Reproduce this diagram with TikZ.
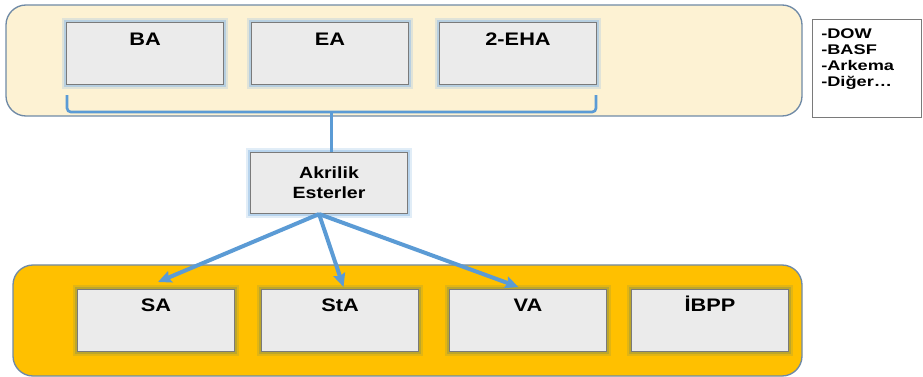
\documentclass[tikz,border=0pt]{standalone}
\usepackage{fontspec}
\usepackage{graphicx}
\setsansfont{Liberation Sans}
\usetikzlibrary{arrows.meta,calc}

\definecolor{creamfill}{HTML}{FDF2D3}
\definecolor{amberfill}{HTML}{FFC000}
\definecolor{panelline}{HTML}{6F8AA6}
\definecolor{cellfill}{HTML}{EBEBEB}
\definecolor{cellline}{HTML}{7A7A7A}
\definecolor{blueglow}{HTML}{9DC3E6}
\definecolor{oliveglow}{HTML}{A39C3E}
\definecolor{linkblue}{HTML}{5B9BD5}

% wide lettering
\newcommand{\wide}[2][1.2]{\scalebox{#1}[1]{#2}}

\tikzset{
  panel/.style={draw=panelline, line width=1pt, rounded corners=15pt},
  cell/.style={draw=cellline, fill=cellfill, line width=0.8pt, anchor=north west,
    minimum width=117.75pt, minimum height=46.5pt, inner sep=0pt,
    preaction={draw=#1, line width=7pt, opacity=.3},
    preaction={draw=#1, line width=4pt, opacity=.6}},
  celltext/.style={anchor=base, inner sep=0pt, yshift=-18pt, font=\sffamily\bfseries\fontsize{13.6}{16}\selectfont},
  link/.style={draw=linkblue, line width=3pt, -{Stealth[length=10pt,width=9pt,inset=1.5pt]}},
  bracket/.style={draw=linkblue, line width=2pt, rounded corners=3pt}
}

\begin{document}
\begin{tikzpicture}[x=0.75pt,y=0.75pt,yscale=-1,xscale=1]
\useasboundingbox (0,0) rectangle (923,377);

% panels
\draw[panel, fill=creamfill] (6,5) rectangle (802,116);
\draw[panel, fill=amberfill] (13,265) rectangle (802,376);

% raw materials
\node[cell=blueglow, label={[celltext]north:\wide{BA}}] (ba) at (66,22) {};
\node[cell=blueglow, label={[celltext]north:\wide{EA}}] (ea) at (251,22) {};
\node[cell=blueglow, label={[celltext]north:\wide{2-EHA}}] (eha) at (439,22) {};

% bracket joining the three esters
\coordinate (brl) at ($(ba.south west)+(1,10)$);
\coordinate (brr) at ($(eha.south east)+(-1,10)$);
\coordinate (br) at ($(brl)+(0,17)$);
\draw[bracket] (brl) -- (br) -| (brr);

\node[cell=blueglow, minimum height=45.75pt, align=center,
  font=\sffamily\bfseries\fontsize{12.2}{15}\selectfont] (ae) at (250,152) {\wide{Akrilik}\\\wide{Esterler}};
\coordinate (aetop) at ($(ae.north)+(2.5,0)$);
\draw[bracket] (aetop) -- (aetop |- br);

% products
\node[cell=oliveglow, label={[celltext, yshift=1pt]north:\wide{SA}}] (sa) at (77,289) {};
\node[cell=oliveglow, label={[celltext, yshift=1pt]north:\wide{StA}}] (sta) at (261,289) {};
\node[cell=oliveglow, label={[celltext, yshift=1pt]north:\wide{VA}}] (va) at (449,289) {};
\node[cell=oliveglow, label={[celltext, yshift=1pt]north:\wide{İBPP}}] (ibpp) at (631,289) {};

\coordinate (ae-out) at ($(ae.south)+(-10,0)$);
\draw[link] (ae-out) -- ($(sa.north)+(2,-7)$);
\draw[link] (ae-out) -- ($(sta.north)+(3.5,-2)$);
\draw[link] (ae-out) -- ($(va.north)+(-9.5,-2)$);

% producers
\node[draw=cellline, fill=white, line width=0.6pt, anchor=north west, inner sep=0pt,
  minimum width=81.75pt, minimum height=73.5pt] (firms) at (812,19) {};
\node[anchor=north west, inner sep=0pt, align=left,
  font=\sffamily\bfseries\fontsize{10.5}{12}\selectfont] (firmlist)
  at ($(firms.north west)+(9,9)$) {\wide[1.3]{-DOW}\\\wide[1.3]{-BASF}\\\wide[1.3]{-Arkema}\\\wide[1.3]{-Diğer…}};

\end{tikzpicture}
\end{document}
